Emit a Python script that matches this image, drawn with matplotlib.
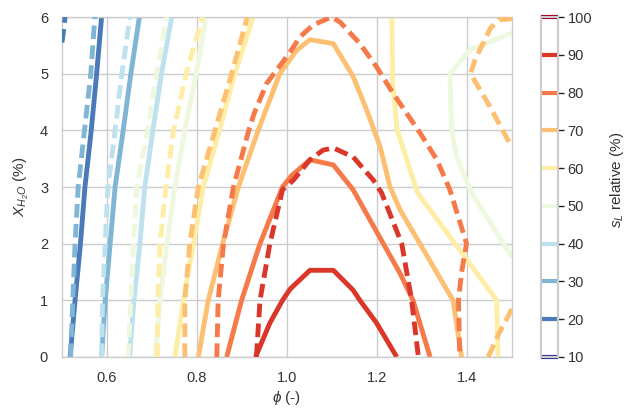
import numpy as np
import matplotlib
matplotlib.use('Agg')
import matplotlib.pyplot as plt
from matplotlib import colors, cm

plt.rcParams['font.family'] = ['Liberation Sans', 'DejaVu Sans']
plt.rcParams['mathtext.fontset'] = 'custom'
plt.rcParams['mathtext.rm'] = 'Liberation Sans'
plt.rcParams['mathtext.it'] = 'Liberation Sans:italic'
plt.rcParams['font.size'] = 10.5

# contour levels of relative flame speed (%)
levels = [10, 20, 30, 40, 50, 60, 70, 80, 90, 100]
x_rows = [0, 1, 2, 3, 4, 5, 6]

# solid contours: (level, phi, X_H2O)
s20_phi = [0.518, 0.529, 0.541, 0.551, 0.565, 0.577, 0.588]
s30_phi = [0.588, 0.596, 0.607, 0.618, 0.636, 0.653, 0.672]
s40_phi = [0.650, 0.660, 0.673, 0.684, 0.702, 0.721, 0.744]
s50_phi = [0.707, 0.718, 0.733, 0.751, 0.773, 0.798, 0.820]
s50r_phi = [1.500, 1.407, 1.362, 1.366, 1.377, 1.410, 1.500]
s50r_x = [5.72, 5.42, 5.00, 4.00, 3.53, 2.90, 1.76]
s60_phi = [0.751, 0.770, 0.792, 0.814, 0.850, 0.884, 0.925]
s60r_phi = [1.233, 1.235, 1.245, 1.290, 1.466, 1.469]
s60r_x = [6.0, 4.8, 4.0, 2.9, 1.0, 0.0]
s70_phi = [0.803, 0.825, 0.857, 0.892, 0.936, 0.984, 1.020, 1.051, 1.103,
           1.147, 1.177, 1.207, 1.229, 1.251, 1.369, 1.388]
s70_x = [0, 1, 2, 3, 4, 5, 5.40, 5.60, 5.53, 4.95, 4.36, 3.71, 3.00, 2.60,
         1.00, 0.00]
s80_phi = [0.866, 0.899, 0.940, 0.990, 1.010, 1.051, 1.103, 1.147, 1.214,
           1.251, 1.280, 1.318]
s80_x = [0, 1, 2, 3.0, 3.2, 3.48, 3.39, 2.95, 2.0, 1.48, 1.0, 0.0]
s90_phi = [0.930, 0.962, 0.990, 1.007, 1.051, 1.103, 1.147, 1.162, 1.199, 1.244]
s90_x = [0, 0.6, 1.0, 1.2, 1.53, 1.53, 1.18, 1.0, 0.6, 0.0]

# dashed contours
d20_phi = [0.500, 0.507]
d20_x = [5.55, 6.0]
d30_phi = [0.519, 0.524, 0.529, 0.536, 0.550, 0.564, 0.573]
d40_phi = [0.588, 0.590, 0.596, 0.602, 0.618, 0.633, 0.651]
d50_phi = [0.647, 0.653, 0.659, 0.666, 0.690, 0.710, 0.733]
d60_phi = [0.712, 0.713, 0.718, 0.731, 0.748, 0.776, 0.812]
d70_phi = [0.773, 0.773, 0.784, 0.803, 0.840, 0.877, 0.912]
d70r_phi = [1.500, 1.470, 1.452, 1.418, 1.408, 1.445, 1.500]
d70r_x = [5.97, 5.95, 5.80, 5.25, 5.00, 4.50, 3.70]
d70b_phi = [1.447, 1.470, 1.500]
d70b_x = [0.0, 0.40, 0.85]
d80_phi = [0.844, 0.847, 0.859, 0.881, 0.915, 0.927, 0.955, 1.005, 1.029,
           1.058, 1.099, 1.118, 1.162, 1.199, 1.236, 1.266, 1.296, 1.333,
           1.362, 1.399, 1.388, 1.381, 1.384]
d80_x = [0, 1, 2, 3, 4, 4.3, 4.83, 5.36, 5.65, 5.86, 6.0, 5.91, 5.53, 5.12,
         4.65, 4.3, 3.95, 3.48, 2.95, 2.0, 1.5, 1.0, 0.0]
d90_phi = [0.932, 0.940, 0.962, 0.990, 1.014, 1.051, 1.080, 1.103, 1.147,
           1.192, 1.210, 1.255, 1.277, 1.292]
d90_x = [0, 1, 2, 2.95, 3.12, 3.48, 3.65, 3.69, 3.53, 3.12, 2.90, 2.0, 1.0, 0.0]

solid = [(20, s20_phi, x_rows), (30, s30_phi, x_rows), (40, s40_phi, x_rows),
         (50, s50_phi, x_rows), (50, s50r_phi, s50r_x), (60, s60_phi, x_rows),
         (60, s60r_phi, s60r_x), (70, s70_phi, s70_x), (80, s80_phi, s80_x),
         (90, s90_phi, s90_x)]
dashed = [(20, d20_phi, d20_x), (30, d30_phi, x_rows), (40, d40_phi, x_rows),
          (50, d50_phi, x_rows), (60, d60_phi, x_rows), (70, d70_phi, x_rows),
          (70, d70r_phi, d70r_x), (70, d70b_phi, d70b_x), (80, d80_phi, d80_x),
          (90, d90_phi, d90_x)]

cmap = plt.get_cmap('RdYlBu_r')
norm = colors.Normalize(vmin=10, vmax=100)
lw = 3.5
grey = '#cccccc'
txt = '#333333'

fig = plt.figure(figsize=(6.28, 4.12), dpi=100)
ax = fig.add_axes([62 / 628, 55 / 412, 450 / 628, 340 / 412])
cax = fig.add_axes([541 / 628, 55 / 412, 17 / 628, 340 / 412])

for lvl, phi, x in solid:
    ax.plot(phi, x, color=cmap(norm(lvl)), lw=lw, solid_capstyle='butt',
            solid_joinstyle='round', zorder=2)
for lvl, phi, x in dashed:
    ax.plot(phi, x, color=cmap(norm(lvl)), lw=lw, linestyle=(0, (2.8, 1.3)),
            dash_capstyle='butt', zorder=3)

ax.set_xlim(0.5, 1.5)
ax.set_ylim(0, 6)
ax.set_xticks([0.6, 0.8, 1.0, 1.2, 1.4])
ax.set_yticks(range(7))
ax.grid(color=grey, lw=1)
ax.set_axisbelow(True)
for s in ax.spines.values():
    s.set_color(grey)
    s.set_linewidth(1)
ax.tick_params(length=0, pad=10, colors=txt, labelsize=10.5)
ax.set_xlabel(r'$\phi$ (-)', color=txt, fontsize=11)
ax.xaxis.set_label_coords(0.5, -0.095)
ax.set_ylabel(r'$X_{H_2O}$ (%)', color=txt, fontsize=11)
ax.yaxis.set_label_coords(-0.068, 0.5)

# colorbar showing the contour levels as lines
sm = cm.ScalarMappable(norm=norm, cmap=cmap)
cb = fig.colorbar(sm, cax=cax, ticks=levels)
cb.solids.set_visible(False)
cax.set_facecolor('white')
cb.add_lines(levels, [cmap(norm(l)) for l in levels], [3] * len(levels))
cb.outline.set_edgecolor(grey)
cb.outline.set_linewidth(1.5)
cax.tick_params(length=4, width=1, color='#222222', labelcolor=txt,
                labelsize=10.5, pad=3)
cb.set_label(r'$s_L$ relative (%)', color=txt, fontsize=11)
cax.yaxis.set_label_coords(3.95, 0.52)

fig.savefig('out.png', dpi=100)
